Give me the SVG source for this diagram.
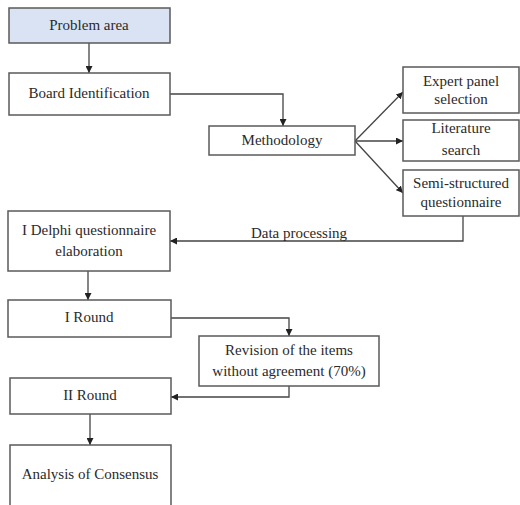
<svg xmlns="http://www.w3.org/2000/svg" width="520" height="505" viewBox="0 0 520 505">
<defs>
<style>
.box{fill:#fff;stroke:#5a5a5a;stroke-width:1.5}
.blue{fill:#dae3f3}
.t{font-family:"Liberation Serif","Times New Roman",serif;font-size:15px;fill:#2a2a2a;text-anchor:middle}
.c{fill:none;stroke:#444;stroke-width:1.3;marker-end:url(#ah)}
</style>
<marker id="ah" viewBox="0 0 10 10" refX="10" refY="5" markerWidth="7" markerHeight="7" orient="auto" markerUnits="userSpaceOnUse">
<path d="M0,0 L10,5 L0,10 z" fill="#222"/>
</marker>
</defs>
<rect width="520" height="505" fill="#fff"/>
<g id="connectors">
<path class="c" d="M89,43 V73"/>
<path class="c" d="M170,94 H283 V126"/>
<path class="c" d="M355,141 L403,92"/>
<path class="c" d="M355,141 L403,141"/>
<path class="c" d="M355,141 L403,193"/>
<path class="c" d="M463,216 V241 H170"/>
<path class="c" d="M88,271 V300"/>
<path class="c" d="M171,318 H289 V336"/>
<path class="c" d="M289,386 V397 H171"/>
<path class="c" d="M90,414 V445"/>
<text class="t" x="299" y="238">Data processing</text>
</g>
<g id="problem-area"><rect class="box blue" x="9" y="8" width="161" height="35"/><text class="t" x="89" y="30">Problem area</text></g>
<g id="board-identification"><rect class="box" x="9" y="73" width="161" height="42"/><text class="t" x="89" y="98">Board Identification</text></g>
<g id="methodology"><rect class="box" x="209" y="126" width="146" height="29"/><text class="t" x="282" y="145">Methodology</text></g>
<g id="expert-panel"><rect class="box" x="403" y="67" width="116" height="46"/><text class="t" x="461" y="86">Expert panel</text><text class="t" x="461" y="104">selection</text></g>
<g id="literature"><rect class="box" x="403" y="120" width="116" height="41"/><text class="t" x="461" y="133">Literature</text><text class="t" x="461" y="155">search</text></g>
<g id="semi-structured"><rect class="box" x="403" y="170" width="116" height="46"/><text class="t" x="461" y="188">Semi-structured</text><text class="t" x="461" y="207">questionnaire</text></g>
<g id="delphi"><rect class="box" x="8" y="211" width="162" height="60"/><text class="t" x="89" y="235">I Delphi questionnaire</text><text class="t" x="89" y="256">elaboration</text></g>
<g id="round1"><rect class="box" x="8" y="300" width="163" height="37"/><text class="t" x="89" y="322">I Round</text></g>
<g id="revision"><rect class="box" x="199" y="336" width="180" height="50"/><text class="t" x="289" y="355">Revision of the items</text><text class="t" x="289" y="376">without agreement (70%)</text></g>
<g id="round2"><rect class="box" x="10" y="378" width="161" height="36"/><text class="t" x="90" y="400">II Round</text></g>
<g id="analysis"><rect class="box" x="10" y="445" width="161" height="70"/><text class="t" x="90" y="479">Analysis of Consensus</text></g>
</svg>
